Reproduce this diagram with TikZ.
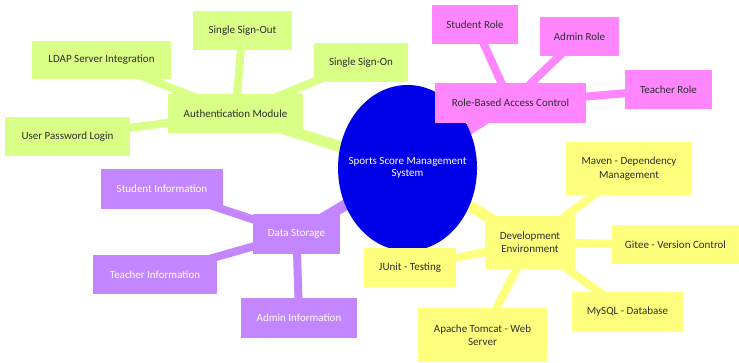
\documentclass[tikz,border=0pt]{standalone}
\usepackage{fontspec}
\setmainfont{Carlito}
\usetikzlibrary{shapes.geometric,backgrounds}
\definecolor{rootblue}{HTML}{0000E8}
\definecolor{authgreen}{HTML}{D9FF86}
\definecolor{rolepink}{HTML}{FF86FF}
\definecolor{datapurple}{HTML}{C386FF}
\definecolor{devyellow}{HTML}{FFFF7E}
\definecolor{darktext}{HTML}{2E2E2E}
\tikzset{
  box/.style={rectangle, inner sep=0pt, align=center, text=darktext,
    font=\fontsize{11}{13.3}\selectfont},
  authbox/.style={box, fill=authgreen},
  rolebox/.style={box, fill=rolepink},
  databox/.style={box, fill=datapurple, text=white},
  devbox/.style={box, fill=devyellow},
  rootnode/.style={ellipse, inner sep=0pt, fill=rootblue, text=white,
    font=\fontsize{11}{13.3}\selectfont},
  trunk/.style={line width=11pt},
  twig/.style={line width=8pt},
}
\begin{document}
\begin{tikzpicture}[x=1pt,y=-1pt]
\useasboundingbox (0,0) rectangle (739,363);

% central topic; the label is boxed at zero width so the oval keeps its set size
\node[rootnode, minimum width=139pt, minimum height=166pt] (root) at (407.5,168)
  {\makebox[0pt]{\raisebox{-2pt}{\begin{tabular}{@{}c@{}}Sports Score Management\\[-1.5pt]System\end{tabular}}}};

% authentication branch
\node[authbox, minimum width=135pt, minimum height=39pt] (auth) at (235.5,113.5) {Authentication Module};
\node[authbox, minimum width=99pt,  minimum height=39pt] (sso)  at (242.5,30.5)  {Single Sign-Out};
\node[authbox, minimum width=139pt, minimum height=38pt] (ldap) at (101.5,60)    {LDAP Server Integration};
\node[authbox, minimum width=125pt, minimum height=39pt] (upl)  at (67.5,136.5)  {User Password Login};
\node[authbox, minimum width=94pt,  minimum height=39pt] (ssn)  at (361,62.5)    {Single Sign-On};

% role branch
\node[rolebox, minimum width=151pt, minimum height=40pt] (rbac)   at (510.5,103)  {Role-Based Access Control};
\node[rolebox, minimum width=86pt,  minimum height=39pt] (srole)  at (475,24.5)   {Student Role};
\node[rolebox, minimum width=79pt,  minimum height=39pt] (arole)  at (579.5,36.5)  {Admin Role};
\node[rolebox, minimum width=87pt,  minimum height=39pt] (trole)  at (668.5,89.5)  {Teacher Role};

% data branch
\node[databox, minimum width=87pt,  minimum height=40pt] (data)   at (296.5,234)  {Data Storage};
\node[databox, minimum width=122pt, minimum height=40pt] (sinfo)  at (162,189)    {Student Information};
\node[databox, minimum width=124pt, minimum height=39pt] (tinfo)  at (155,274.5)  {Teacher Information};
\node[databox, minimum width=116pt, minimum height=40pt] (ainfo)  at (299,318)    {Admin Information};

% development branch
\node[devbox, minimum width=90pt,  minimum height=53pt] (dev)    at (530,242.5)  {Development\\Environment};
\node[devbox, minimum width=126pt, minimum height=53pt] (maven)  at (629,168.5)  {Maven - Dependency\\Management};
\node[devbox, minimum width=127pt, minimum height=39pt] (gitee)  at (675.5,244.5) {Gitee - Version Control};
\node[devbox, minimum width=92pt,  minimum height=39pt] (junit)  at (410,267.5)  {JUnit - Testing};
\node[devbox, minimum width=111pt, minimum height=40pt] (mysql)  at (627.5,312)  {MySQL - Database};
\node[devbox, minimum width=129pt, minimum height=54pt] (tomcat) at (482.5,335)  {Apache Tomcat - Web\\Server};

% connectors run behind the boxes, centre to centre
\begin{pgfonlayer}{background}
  \draw[trunk, authgreen]  (root.center) -- (auth.center);
  \draw[trunk, rolepink]   (root.center) -- (rbac.center);
  \draw[trunk, datapurple] (root.center) -- (data.center);
  \draw[trunk, devyellow]  (root.center) -- (dev.center);

  \draw[twig, authgreen] (auth.center) -- (sso.center);
  \draw[twig, authgreen] (auth.center) -- (ldap.center);
  \draw[twig, authgreen] (auth.center) -- (upl.center);
  \draw[twig, authgreen] (auth.center) -- (ssn.center);

  \draw[twig, rolepink] (rbac.center) -- (srole.center);
  \draw[twig, rolepink] (rbac.center) -- (arole.center);
  \draw[twig, rolepink] (rbac.center) -- (trole.center);

  \draw[twig, datapurple] (data.center) -- (sinfo.center);
  \draw[twig, datapurple] (data.center) -- (tinfo.center);
  \draw[twig, datapurple] (data.center) -- (ainfo.center);

  \draw[twig, devyellow] (dev.center) -- (maven.center);
  \draw[twig, devyellow] (dev.center) -- (gitee.center);
  \draw[twig, devyellow] (dev.center) -- (junit.center);
  \draw[twig, devyellow] (dev.center) -- (mysql.center);
  \draw[twig, devyellow] (dev.center) -- (tomcat.center);
\end{pgfonlayer}
\end{tikzpicture}
\end{document}
